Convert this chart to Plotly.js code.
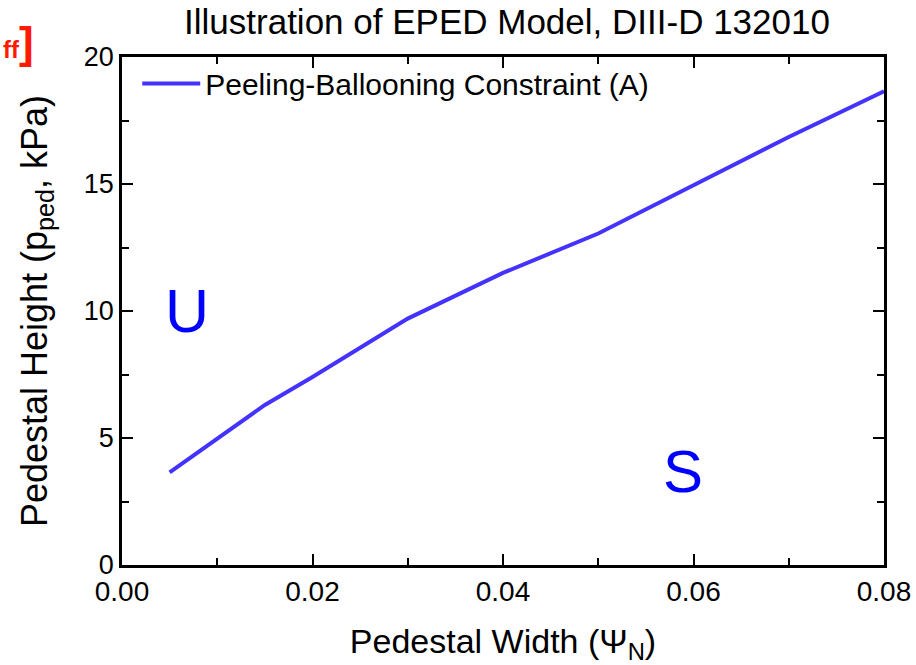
<!DOCTYPE html>
<html>
<head>
<meta charset="utf-8">
<script src="https://cdn.plot.ly/plotly-3.0.1.min.js"></script>
<style>html,body{margin:0;padding:0;background:#fff;}#chart{width:916px;height:665px;}</style>
</head>
<body>
<div id="chart"></div>
<script>
const widthPsiN = [0.005, 0.015, 0.02, 0.03, 0.04, 0.05, 0.06, 0.07, 0.08];
const pedHeight = [3.65, 6.3, 7.4, 9.7, 11.5, 13.05, 14.95, 16.85, 18.65];
const seriesName = "Peeling-Ballooning Constraint (A)";
const xTickVals = [0, 0.02, 0.04, 0.06, 0.08];
const xTickText = ["0.00", "0.02", "0.04", "0.06", "0.08"];
const yTickVals = [0, 5, 10, 15, 20];

const FONT = "Liberation Sans, Arial, Helvetica, sans-serif";

const trace = {
  x: widthPsiN, y: pedHeight, type: "scatter", mode: "lines",
  name: seriesName,
  line: {color: "rgb(68,51,255)", width: 4}
};

const axisCommon = {
  showline: true, linecolor: "#000", linewidth: 2.5, mirror: "ticks",
  ticks: "inside", ticklen: 11, tickwidth: 2, tickcolor: "#000",
  showgrid: false, zeroline: false
};

const layout = {
  width: 916, height: 665,
  margin: {l: 122, r: 32, t: 57, b: 100},
  paper_bgcolor: "#fff", plot_bgcolor: "#fff",
  font: {family: FONT, color: "#000"},
  title: {text: "Illustration of EPED Model, DIII-D 132010", font: {family: FONT, size: 35, color: "#000"},
          x: 0.5535, xanchor: "center", y: 0.968, yanchor: "middle"},
  showlegend: true,
  legend: {x: 0.02, y: 0.999, xanchor: "left", yanchor: "top", bgcolor: "rgba(0,0,0,0)",
           font: {family: FONT, size: 30, color: "#000"}, itemwidth: 58},
  xaxis: Object.assign({}, axisCommon, {
    range: [0, 0.08], tickvals: xTickVals, ticktext: xTickText,
    tickfont: {family: FONT, size: 28, color: "#000"},
    minor: {dtick: 0.01, ticks: "inside", ticklen: 7, tickwidth: 2, tickcolor: "#000"},
    title: {text: "Pedestal Width (Ψ<sub>N</sub>)", font: {family: FONT, size: 34, color: "#000"}, standoff: 24}
  }),
  yaxis: Object.assign({}, axisCommon, {
    range: [0, 20], tickvals: yTickVals,
    tickfont: {family: FONT, size: 27, color: "#000"},
    minor: {dtick: 2.5, ticks: "inside", ticklen: 7, tickwidth: 2, tickcolor: "#000"},
    title: {text: "Pedestal Height (p<sub>ped</sub>, kPa)", font: {family: FONT, size: 36, color: "#000"}, standoff: 26}
  }),
  annotations: [
    {x: 0.0068, y: 10.0, xref: "x", yref: "y", text: "U", showarrow: false,
     font: {family: FONT, size: 61, color: "#0000ff"}},
    {x: 0.0589, y: 3.7, xref: "x", yref: "y", text: "S", showarrow: false,
     font: {family: FONT, size: 60, color: "#0000ff"}},
    {x: -0.113, y: 1.0276, xref: "paper", yref: "paper", xanchor: "right", yanchor: "middle",
     text: "<b><span style='font-size:24px'>ff</span>]</b>", showarrow: false,
     font: {family: FONT, size: 44, color: "#ff1a00"}}
  ]
};

Plotly.newPlot("chart", [trace], layout, {displayModeBar: false, responsive: false});
</script>
</body>
</html>
